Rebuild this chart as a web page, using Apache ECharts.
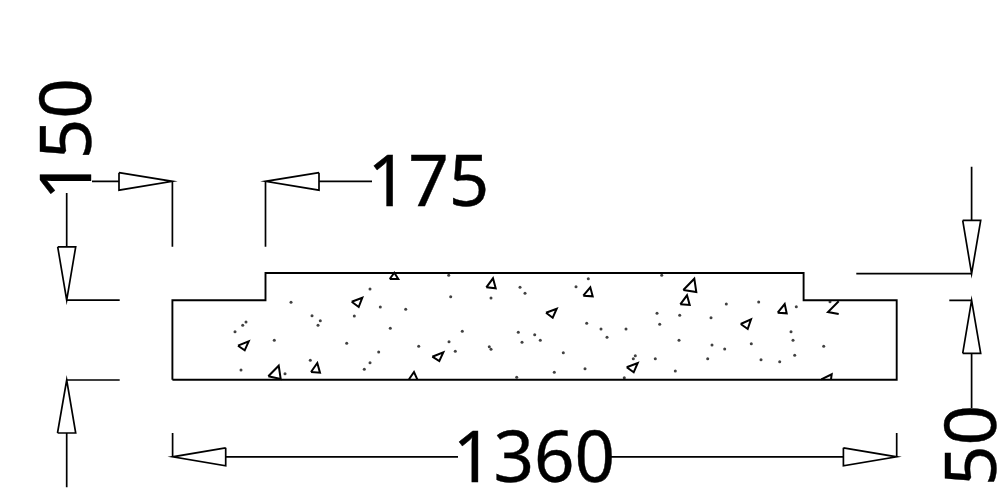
<!DOCTYPE html>
<html>
<head>
<meta charset="utf-8">
<style>html,body{margin:0;padding:0;background:#fff}#c{width:1006px;height:490px}</style>
<script src="https://cdn.jsdelivr.net/npm/echarts@6/dist/echarts.min.js"></script>
</head>
<body>
<div id="c"></div>
<script>
const slabOutline = [[172.4,379.8],[172.4,300.2],[265.5,300.2],[265.5,273],[803.6,273],[803.6,300.2],[896.7,300.2],[896.7,379.8],[172.4,379.8]];
const extensionLines = [
  [[172.4,181.3],[172.4,246.8]],
  [[265.5,181.3],[265.5,246.8]],
  [[66.7,300.2],[119.7,300.2]],
  [[66.7,380],[119.7,380]],
  [[856.3,273.6],[971.6,273.6]],
  [[949.3,300.3],[971.6,300.3]],
  [[172.6,433],[172.6,456.8]],
  [[896.7,433],[896.7,456.8]]
];
const dimensionLines = [
  [[92,181.3],[119,181.3]],
  [[66.7,193],[66.7,246.8]],
  [[66.7,433],[66.7,487.3]],
  [[319,181.3],[372,181.3]],
  [[971.6,166.7],[971.6,220.3]],
  [[971.6,353.3],[971.6,408]],
  [[225.7,456.8],[458,456.8]],
  [[610,456.8],[843.4,456.8]]
];
const arrowHeads = [
  [[119,172.7],[172.4,181.3],[119,190.2],[119,172.7]],
  [[319,172.7],[265.5,181.3],[319,190.2],[319,172.7]],
  [[57.7,246.8],[75.7,246.8],[66.7,300.2],[57.7,246.8]],
  [[57.5,433],[75.7,433],[66.7,380],[57.5,433]],
  [[962.7,220.3],[980.7,220.3],[971.6,273.6],[962.7,220.3]],
  [[962.7,353.3],[980.7,353.3],[971.6,300.3],[962.7,353.3]],
  [[225.7,447.8],[172.6,456.8],[225.7,465.8],[225.7,447.8]],
  [[843.4,447.8],[896.7,456.8],[843.4,465.8],[843.4,447.8]]
];
const aggregateTriangles = [
  [[389.7,279],[394.3,272.7],[398.3,279],[389.7,279]],
  [[351.7,301.7],[362.3,297.7],[358.7,307],[351.7,301.7]],
  [[238,345.7],[248.7,341.3],[244.7,350.3],[238,345.7]],
  [[268.3,376.3],[278.7,365.7],[280.7,379],[268.3,376.3]],
  [[311,372],[317.3,363],[320,372.7],[311,372]],
  [[409,379.3],[414,372],[417.3,379.3]],
  [[486.3,287.3],[493,278.3],[495.7,288.3],[486.3,287.3]],
  [[583.3,295.7],[590.3,287.3],[592.7,296.3],[583.3,295.7]],
  [[546,312.7],[556.7,308.7],[552.7,317.7],[546,312.7]],
  [[432.3,356.7],[443.3,352.3],[439.3,361],[432.3,356.7]],
  [[626.7,367.3],[637.7,363],[633.7,372.3],[626.7,367.3]],
  [[683.3,290],[694.3,278.7],[696.3,292],[683.3,290]],
  [[680.3,304.3],[687,295.3],[689.7,305],[680.3,304.3]],
  [[777.7,312.7],[784.7,304],[786.7,313.3],[777.7,312.7]],
  [[740.7,324],[751,319.3],[747.7,329],[740.7,324]],
  [[838.7,301.3],[828,312],[838.7,314]],
  [[821.3,379.3],[831.7,374.3],[831,379.3]]
];
const concreteDots = [
  [370,289],[291,302.3],[380.3,307],[405.7,309.3],[312,315.7],[354.3,316],[320.3,320.7],[318,325.3],
  [246,322],[242.7,325.3],[235,331.7],[390.3,328.3],[274.3,340.3],[346.7,343.3],[418.7,346.3],[378.7,352],
  [310.3,360.3],[370,362.7],[364.3,369.3],[241,370],[285,373.7],
  [448.7,275.3],[588.3,278.7],[520,287.3],[576,286.7],[525,293.3],[450.7,296.7],[491,298],[661.7,275.3],
  [657,313.3],[586.7,323.3],[659.7,324.3],[601,329],[626,329],[462.3,331.3],[518.3,332.3],[534.7,334.7],
  [607,337.3],[540.3,340.3],[449,341.7],[522,342.3],[489.3,346.7],[491,349.3],[455.3,351.3],[563.3,352.7],
  [635.3,355.7],[633.3,358.7],[655.3,358.7],[554.3,372.3],[585,368.7],[516.7,377.3],[624.3,377.7],
  [726.3,304],[758.7,302],[796.3,306.7],[679.7,315.3],[711,317.7],[791,331.7],[679,340.3],[793,340.3],
  [712,345],[724.7,349],[751.3,343.7],[823.7,346.3],[707.7,358.7],[761,359.7],[779.7,361.7],[794.7,355.3],
  [675.3,371],[830,301.7]
];
const dimensionLabels = [
  {text:'150',  at:[71,139], turned:true},
  {text:'175',  at:[428.5,185.5],  turned:false},
  {text:'1360', at:[534,461.5],  turned:false},
  {text:'50',   at:[976,445.5], turned:true}
];

const withGaps = groups => groups.flatMap(g => [...g, [null,null]]);
const ink = '#000';
const stroke = (name, groups, w) => ({
  name, type:'line', data: withGaps(groups), symbol:'none', connectNulls:false, silent:true,
  lineStyle:{color:ink, width:w, join:'miter', cap:'butt'}, z:3
});

const chart = echarts.init(document.getElementById('c'), null, {renderer:'canvas'});
chart.setOption({
  animation:false,
  backgroundColor:'#fff',
  grid:{left:0,right:0,top:0,bottom:0},
  xAxis:{type:'value',min:0,max:1006,show:false},
  yAxis:{type:'value',min:0,max:490,inverse:true,show:false},
  series:[
    stroke('slab',[slabOutline],1.9),
    stroke('extensions',extensionLines,1.7),
    stroke('dimensions',dimensionLines,1.7),
    stroke('arrows',arrowHeads,1.7),
    stroke('aggregate',aggregateTriangles,2),
    {name:'dots',type:'scatter',data:concreteDots,symbol:'circle',symbolSize:3,silent:true,
     itemStyle:{color:'#111'},z:2},
    {name:'labels',type:'custom',coordinateSystem:'cartesian2d',silent:true,z:5,
     data:dimensionLabels.map(d=>d.at),
     renderItem:(params,api)=>{
       const d=dimensionLabels[params.dataIndex];
       const p=api.coord([api.value(0),api.value(1)]);
       return {type:'text',x:p[0],y:p[1],rotation:d.turned?Math.PI/2:0,
         style:{text:d.text,fill:ink,stroke:ink,lineWidth:0.4,font:'71px "Noto Sans", "Liberation Sans", sans-serif',
                textAlign:'center',textVerticalAlign:'middle'}};
     }}
  ]
});
</script>
</body>
</html>
